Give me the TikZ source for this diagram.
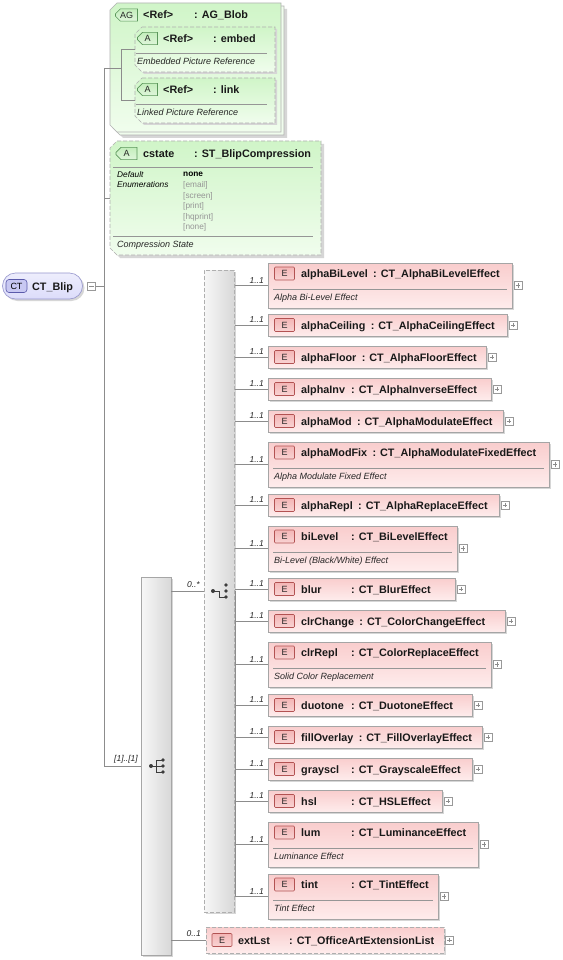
\documentclass[tikz,border=0pt]{standalone}
\usepackage{fontspec}
\setmainfont{Liberation Sans}
\usetikzlibrary{calc,shapes.misc}
\definecolor{lineC}{RGB}{140,140,140}
\definecolor{elTop}{RGB}{249,205,205}
\definecolor{elBot}{RGB}{254,236,236}
\definecolor{elBorder}{RGB}{165,165,165}
\definecolor{shadowC}{RGB}{214,214,214}
\definecolor{badgeEfill}{RGB}{244,182,182}
\definecolor{badgeEborder}{RGB}{178,82,82}
\definecolor{grTop}{RGB}{208,245,200}
\definecolor{grBot}{RGB}{240,253,237}
\definecolor{badgeAfill}{RGB}{196,238,188}
\definecolor{badgeAborder}{RGB}{90,150,90}
\definecolor{ctFill}{RGB}{220,220,250}
\definecolor{ctBorder}{RGB}{150,150,205}
\definecolor{ctBadge}{RGB}{200,200,242}
\definecolor{ctBadgeBorder}{RGB}{90,90,170}
\definecolor{compL}{RGB}{247,247,247}
\definecolor{compR}{RGB}{216,216,216}
\definecolor{enumC}{RGB}{150,150,150}
\definecolor{dashC}{RGB}{175,175,175}
\definecolor{sepC}{RGB}{150,150,150}
\definecolor{iconC}{RGB}{60,60,60}

\newcommand\ChamBox[5]{\path[#5] (#1+7,#2) -- (#3,#2) -- (#3,#4) -- (#1+7,#4) -- (#1,#4-7) -- (#1,#2+7) -- cycle;}

\newcommand\ElS[5]{%
  \fill[shadowC] (270,#2+2) rectangle (#3+2,#2+24);
  \node[elbox, minimum width={#3-268}, minimum height=22] (#1) at ({(268+#3)/2},#2+11) {};
  \node[badgeE] (e#1) at (284.5,#2+11) {E};
  \node[nm] (n#1) at (301,#2+15) {#4};
  \path let \p1=(n#1.base east) in node[nm] (t#1) at ({max(351pt,\x1+5pt)},\y1) {: #5};
  \node[plusbox] (p#1) at (#3+6,#2+11) {};
  \coordinate (c#1) at (235,#2+11);
  \draw[conn] (c#1) -- (#1.west);
  \node[mult] (m#1) at (264,#2+9) {1..1};
}
\newcommand\ElD[6]{%
  \fill[shadowC] (270,#2+2) rectangle (#3+2,#2+47);
  \node[elbox, minimum width={#3-268}, minimum height=45] (#1) at ({(268+#3)/2},#2+22.5) {};
  \node[badgeE] (e#1) at (284.5,#2+10.5) {E};
  \node[nm] (n#1) at (301,#2+14.5) {#4};
  \path let \p1=(n#1.base east) in node[nm] (t#1) at ({max(351pt,\x1+5pt)},\y1) {: #5};
  \draw[sepline] (273,#2+26) -- (#3-5,#2+26);
  \node[desc] (d#1) at (274,#2+37.5) {#6};
  \node[plusbox] (p#1) at (#3+6,#2+22.5) {};
  \coordinate (c#1) at (235,#2+22.5);
  \draw[conn] (c#1) -- (#1.west);
  \node[mult] (m#1) at (264,#2+20.5) {1..1};
}

\begin{document}
\begin{tikzpicture}[x=1pt,y=-1pt,
  conn/.style={draw=lineC, line width=0.6pt},
  sepline/.style={draw=sepC, line width=0.6pt},
  nm/.style={font=\bfseries\fontsize{10.8}{12}\selectfont, anchor=base west, inner sep=0pt, text=black!90},
  desc/.style={font=\itshape\fontsize{9}{10}\selectfont, anchor=base west, inner sep=0pt, text=black!85},
  small/.style={font=\fontsize{8.3}{9}\selectfont, anchor=base west, inner sep=0pt},
  mult/.style={font=\itshape\fontsize{8.5}{10}\selectfont, anchor=south east, inner sep=0pt, text=black!85},
  elbox/.style={draw=elBorder, line width=0.6pt, top color=elTop, bottom color=elBot, inner sep=0pt},
  badgeE/.style={draw=badgeEborder, line width=0.6pt, top color=badgeEfill, bottom color=badgeEfill!60, minimum width=20, minimum height=13, inner sep=0pt, rounded corners=1pt, font=\fontsize{9}{10}\selectfont, text=black!85},
  badgeA/.style={chamfered rectangle, chamfered rectangle corners={north west,south west}, chamfered rectangle xsep=2pt, chamfered rectangle ysep=3pt, draw=badgeAborder, line width=0.6pt, top color=badgeAfill, bottom color=badgeAfill!55, minimum height=12, inner sep=0pt, font=\fontsize{9}{10}\selectfont, text=black!85},
  comp/.style={draw=black!35, line width=0.6pt, left color=compL, right color=compR, inner sep=0pt},
  plusbox/.style={draw=black!40, fill=white, minimum size=8, inner sep=0pt, line width=0.5pt,
    path picture={\draw[black!45, line width=0.5pt] ([xshift=1.8pt]path picture bounding box.west) -- ([xshift=-1.8pt]path picture bounding box.east) ([yshift=-1.8pt]path picture bounding box.north) -- ([yshift=1.8pt]path picture bounding box.south);}},
  minusbox/.style={draw=black!40, fill=white, minimum size=8, inner sep=0pt, line width=0.5pt,
    path picture={\draw[black!45, line width=0.5pt] ([xshift=1.8pt]path picture bounding box.west) -- ([xshift=-1.8pt]path picture bounding box.east);}}
]
\useasboundingbox[fill=white] (0,0) rectangle (562,960);

% ---------- AG group ----------
\ChamBox{116}{9}{287}{138}{fill=shadowC}
\ChamBox{113}{6}{284}{135}{fill=grBot, draw=black!30, line width=0.6pt}
\ChamBox{110}{3}{281}{132}{top color=grTop, bottom color=grBot, draw=black!30, line width=0.6pt}
\node[badgeA, minimum width=22] (agb) at (126.5,15) {AG};
\node[nm] (agr) at (143,19) {<Ref>};
\node[nm] (agt) at (194,19) {: AG\_Blob};

% embed
\ChamBox{137}{29}{277}{74}{fill=shadowC}
\ChamBox{135}{27}{275}{72}{top color=grTop, bottom color=grBot, draw=dashC, dashed, dash pattern=on 4pt off 2pt, line width=0.6pt}
\node[badgeA, minimum width=20] (emb) at (147.5,38.5) {A};
\node[nm] (emr) at (163,42.5) {<Ref>};
\node[nm] (emt) at (213,42.5) {: embed};
\draw[sepline] (136,53) -- (267,53);
\node[desc] (emd) at (137,64.5) {Embedded Picture Reference};

% link
\ChamBox{137}{80}{277}{125}{fill=shadowC}
\ChamBox{135}{78}{275}{123}{top color=grTop, bottom color=grBot, draw=dashC, dashed, dash pattern=on 4pt off 2pt, line width=0.6pt}
\node[badgeA, minimum width=20] (lkb) at (147.5,89.5) {A};
\node[nm] (lkr) at (163,93.5) {<Ref>};
\node[nm] (lkt) at (213,93.5) {: link};
\draw[sepline] (136,104) -- (267,104);
\node[desc] (lkd) at (137,115.5) {Linked Picture Reference};

\coordinate (agJ) at (121,68);
\coordinate (agJa) at (121,49.5);
\coordinate (agJb) at (121,100.5);
\coordinate (emIn) at (135,49.5);
\coordinate (lkIn) at (135,100.5);
\draw[conn] (agJa) -- (agJb);
\draw[conn] (agJa) -- (emIn);
\draw[conn] (agJb) -- (lkIn);

% ---------- cstate ----------
\ChamBox{113}{144}{324}{258}{fill=shadowC}
\ChamBox{110}{141}{321}{255}{top color=grTop, bottom color=grBot, draw=dashC, dashed, dash pattern=on 4pt off 2pt, line width=0.6pt}
\node[badgeA, minimum width=21] (csb) at (126.5,153.5) {A};
\node[nm] (csn) at (143,157.5) {cstate};
\node[nm] (cst) at (194,157.5) {: ST\_BlipCompression};
\draw[sepline] (113,167) -- (313,167);
\node[small, font=\itshape\fontsize{8.3}{9}\selectfont] (csd1) at (117,178) {Default};
\node[small, font=\itshape\fontsize{8.3}{9}\selectfont] (csd2) at (117,187.5) {Enumerations};
\node[small, font=\bfseries\fontsize{8.3}{9}\selectfont] (csv) at (183,177) {none};
\node[small, text=enumC] (cse1) at (183,187.5) {[email]};
\node[small, text=enumC] (cse2) at (183,198) {[screen]};
\node[small, text=enumC] (cse3) at (183,208.5) {[print]};
\node[small, text=enumC] (cse4) at (183,219) {[hqprint]};
\node[small, text=enumC] (cse5) at (183,229.5) {[none]};
\draw[sepline] (113,236) -- (313,236);
\node[desc] (csdesc) at (117,247) {Compression State};
\coordinate (csIn) at (110,198);

% ---------- CT_Blip ----------
\fill[shadowC, rounded corners=13pt] (4.5,275) rectangle (84.5,301);
\node[draw=ctBorder, line width=0.6pt, top color=white!50!ctFill, bottom color=ctFill, rounded corners=13pt, minimum width=80, minimum height=26, inner sep=0pt] (ctb) at (42.5,286) {};
\node[draw=ctBadgeBorder, line width=0.6pt, fill=ctBadge, rounded corners=3pt, minimum width=21, minimum height=13, inner sep=0pt, font=\fontsize{9}{10}\selectfont] (ctbadge) at (16.5,286) {CT};
\node[nm] (ctname) at (32,290) {CT\_Blip};
\node[minusbox] (ctminus) at (91.5,286) {};

% ---------- trunk ----------
\coordinate (tr1) at (104,68);
\coordinate (tr2) at (104,198);
\coordinate (tr3) at (104,286);
\coordinate (tr4) at (104,766);
\draw[conn] (tr1) -- (tr4);
\draw[conn] (tr1) -- (agJ);
\draw[conn] (tr2) -- (csIn);
\draw[conn] (ctminus) -- (tr3);

% ---------- sequence ----------
\fill[shadowC] (143,579) rectangle (173,957);
\node[comp, minimum width=30, minimum height=378] (seq) at (156,766) {};
\draw[conn] (tr4) -- (seq.west);
\node[mult] (seqm) at (138,763) {[1]..[1]};
\fill[iconC] (151,766) circle (2pt);
\draw[iconC, line width=0.8pt] (151,766) -- (156,766) (156,760) -- (156,772) (156,760) -- (163,760) (156,766) -- (163,766) (156,772) -- (163,772);
\fill[iconC] (163,760) circle (1.8pt) (163,766) circle (1.8pt) (163,772) circle (1.8pt);

% ---------- choice ----------
\fill[shadowC] (206,272) rectangle (236,914);
\node[comp, draw=dashC, dashed, dash pattern=on 4pt off 2pt, minimum width=30, minimum height=642] (ch) at (219,591) {};
\coordinate (sq1) at (171,591);
\draw[conn] (sq1) -- (ch.west);
\node[mult] (chm) at (200,588) {0..*};
\fill[iconC] (213,591) circle (2pt);
\draw[iconC, line width=0.8pt] (213,591) -- (219,591) -- (219,597) -- (226,597);
\fill[iconC] (226,585) circle (1.8pt) (226,591) circle (1.8pt) (226,597) circle (1.8pt);

% ---------- elements ----------
\ElD{alphaBiLevel}{263}{512}{alphaBiLevel}{CT\_AlphaBiLevelEffect}{Alpha Bi-Level Effect}
\ElS{alphaCeiling}{314}{507}{alphaCeiling}{CT\_AlphaCeilingEffect}
\ElS{alphaFloor}{346}{486}{alphaFloor}{CT\_AlphaFloorEffect}
\ElS{alphaInv}{378}{491}{alphaInv}{CT\_AlphaInverseEffect}
\ElS{alphaMod}{410}{503}{alphaMod}{CT\_AlphaModulateEffect}
\ElD{alphaModFix}{442}{549}{alphaModFix}{CT\_AlphaModulateFixedEffect}{Alpha Modulate Fixed Effect}
\ElS{alphaRepl}{494}{499}{alphaRepl}{CT\_AlphaReplaceEffect}
\ElD{biLevel}{526}{457}{biLevel}{CT\_BiLevelEffect}{Bi-Level (Black/White) Effect}
\ElS{blur}{578}{455}{blur}{CT\_BlurEffect}
\ElS{clrChange}{610}{505}{clrChange}{CT\_ColorChangeEffect}
\ElD{clrRepl}{642}{491}{clrRepl}{CT\_ColorReplaceEffect}{Solid Color Replacement}
\ElS{duotone}{694}{472}{duotone}{CT\_DuotoneEffect}
\ElS{fillOverlay}{726}{482}{fillOverlay}{CT\_FillOverlayEffect}
\ElS{grayscl}{758}{472}{grayscl}{CT\_GrayscaleEffect}
\ElS{hsl}{790}{442}{hsl}{CT\_HSLEffect}
\ElD{lum}{822}{478}{lum}{CT\_LuminanceEffect}{Luminance Effect}
\ElD{tint}{874}{438}{tint}{CT\_TintEffect}{Tint Effect}
\coordinate (chOut) at (235,591);
\draw[conn] (chOut) -- (ctint);

% ---------- extLst ----------
\fill[shadowC] (208,929) rectangle (446,955);
\node[elbox, draw=dashC, dashed, dash pattern=on 4pt off 2pt, minimum width=238, minimum height=26] (ext) at (325,940) {};
\node[badgeE] (eext) at (222,940) {E};
\node[nm] (next) at (238,944) {extLst};
\node[nm] (text) at (289,944) {: CT\_OfficeArtExtensionList};
\node[plusbox] (pext) at (449.5,940) {};
\coordinate (sq2) at (171,940);
\draw[conn] (sq2) -- (ext.west);
\node[mult] (extm) at (201,937) {0..1};
\end{tikzpicture}
\end{document}
